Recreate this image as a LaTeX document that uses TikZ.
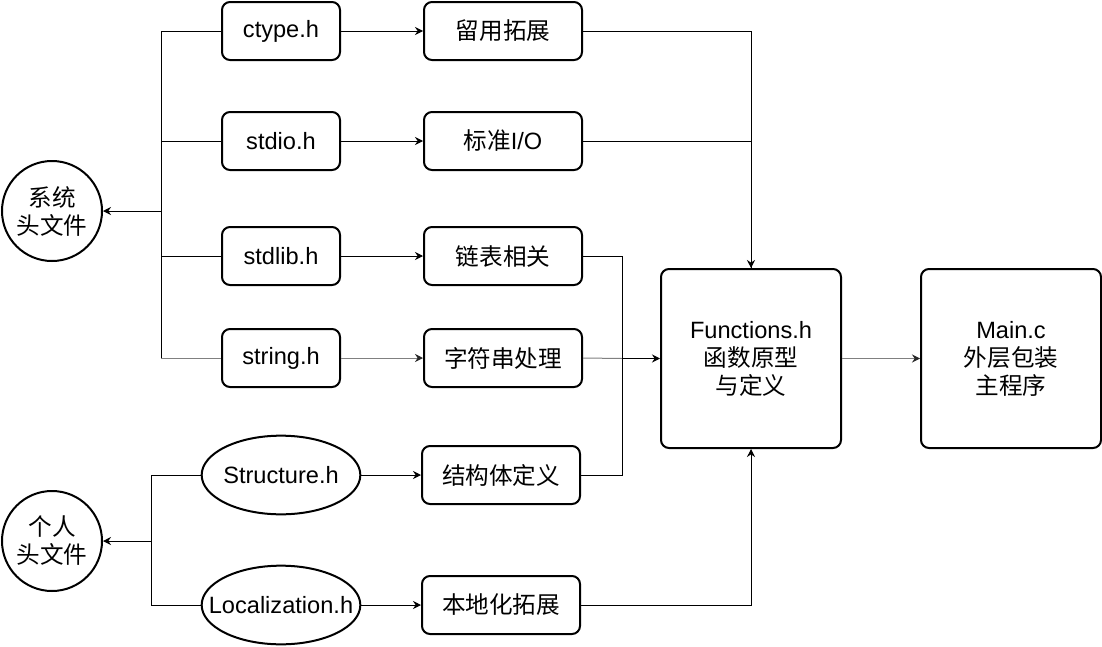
\documentclass[tikz,border=0pt]{standalone}
\usepackage{fontspec}
\setmainfont{Liberation Sans}
\newfontfamily\cjk{Noto Sans CJK SC}
\usetikzlibrary{arrows.meta,positioning,shapes.geometric}

\begin{document}
\begin{tikzpicture}[
  x=0.75pt,y=-0.75pt,
  hdr/.style ={rectangle,draw,line width=1.5pt,rounded corners=6pt,
               minimum width=88.5pt,minimum height=43.5pt,inner sep=0pt,
               font=\fontsize{17.7}{21}\selectfont,align=center},
  mdl/.style ={hdr,minimum width=118.5pt},
  own/.style ={ellipse,draw,line width=1.5pt,minimum width=119pt,
               minimum height=59pt,inner sep=0pt,
               font=\fontsize{17.7}{21}\selectfont},
  grp/.style ={circle,draw,line width=1.5pt,minimum size=75pt,inner sep=0pt,
               font=\fontsize{17.7}{21}\selectfont\cjk,align=center},
  core/.style={hdr,minimum width=135pt,minimum height=134.25pt},
  ln/.style  ={line width=0.75pt,color=black},
  lg/.style  ={line width=0.75pt,color=black!50},
  ar/.style  ={ln,-{Stealth[length=6pt,width=6pt,inset=2pt]}},
  ag/.style  ={lg,-{Stealth[length=6pt,width=6pt,inset=2pt,color=black!85]}}
]
\useasboundingbox (0,0) rectangle (1102,646);
% header groups
\node[grp] (sys) at (52,211) {系统\\头文件};
\node[grp] (usr) at (52,541) {个人\\头文件};
% system headers
\node[hdr] (ctype)  at (281,31)  {ctype.h};
\node[hdr] (stdio)  at (281,141) {stdio.h};
\node[hdr] (stdlib) at (281,256) {stdlib.h};
\node[hdr] (string) at (281,358) {string.h};
% own headers
\node[own] (struct) at (281,475) {\makebox[0pt]{Structure.h}};
\node[own] (local)  at (281,605) {\makebox[0pt]{Localization.h}};
% what each header is used for
\node[mdl,right=61.5pt of ctype]  (keep) {\cjk 留用拓展};
\node[mdl,right=61.5pt of stdio]  (sio)  {{\cjk 标准}I/O};
\node[mdl,right=61.5pt of stdlib] (list) {\cjk 链表相关};
\node[mdl,right=61.5pt of string] (strp) {\cjk 字符串处理};
\node[mdl] (sdef) at (501,475) {\cjk 结构体定义};
\node[mdl] (lext) at (501,605) {\cjk 本地化拓展};
% program parts
\node[core] (func) at (751,358.5) {Functions.h\\{\cjk 函数原型}\\{\cjk 与定义}};
\node[core] (main) at (1011,358.5) {Main.c\\{\cjk 外层包装}\\{\cjk 主程序}};
% bus points
\coordinate (sbus) at (161,211);
\coordinate (ubus) at (151,541);
\coordinate (mbus) at (622,358.5);

\foreach \a in {ctype,stdio,stdlib}
  \draw[ln](\a.west) -| (sbus);
\draw[ln](sbus) -- (sbus |- string.west);
\draw[lg](sbus |- string.west) -- (string.west);
\draw[ar](sbus) -- (sys);
\foreach \a in {struct,local}
  \draw[ln](\a.west) -| (ubus);
\draw[ar](ubus) -- (usr);

\foreach \a/\b in {ctype/keep,stdio/sio,stdlib/list,struct/sdef,local/lext}
  \draw[ar](\a)--(\b);
\draw[ag](string)--(strp);

\draw[ar](keep.east) -| (func.north);
\draw[ln](sio.east) -| (func.north);
\draw[ln](list.east) -| (mbus);
\draw[ln](sdef.east) -| (mbus);
\draw[lg](strp.east) -- (mbus);
\draw[ar](mbus) -- (func.west);
\draw[ar](lext.east) -| (func.south);
\draw[ag](func)--(main);
\end{tikzpicture}
\end{document}
